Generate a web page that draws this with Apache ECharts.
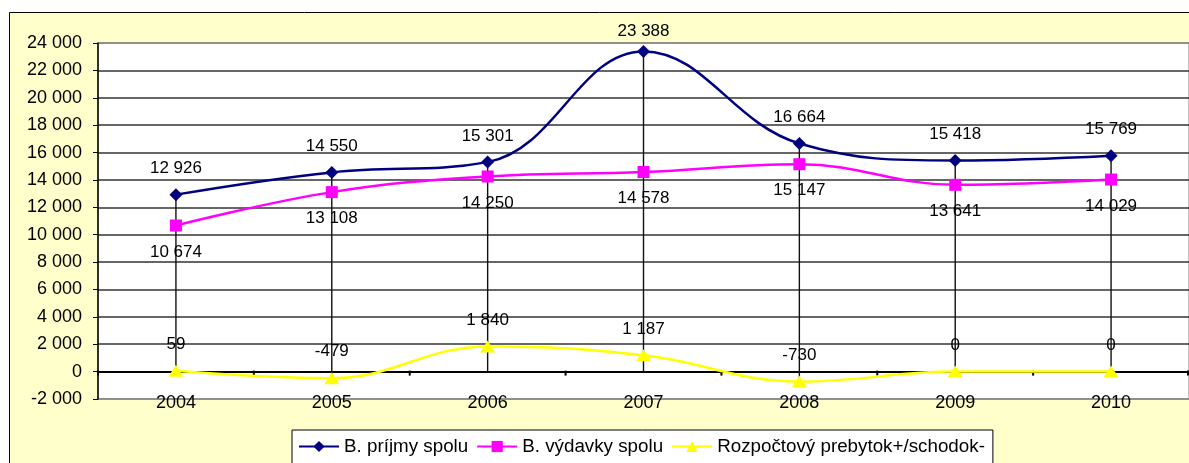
<!DOCTYPE html>
<html>
<head>
<meta charset="utf-8">
<script src="https://cdn.jsdelivr.net/npm/echarts@6/dist/echarts.min.js"></script>
<style>
html,body{margin:0;padding:0;background:#fff;}
#c{width:1189px;height:463px;}
</style>
</head>
<body>
<div id="c"></div>
<script>
const years = ['2004','2005','2006','2007','2008','2009','2010'];
const prijmy = [12926, 14550, 15301, 23388, 16664, 15418, 15769];
const vydavky = [10674, 13108, 14250, 14578, 15147, 13641, 14029];
const saldo = [59, -479, 1840, 1187, -730, 0, 0];
const seriesNames = ['B. príjmy spolu', 'B. výdavky spolu', 'Rozpočtový prebytok+/schodok-'];
const yMin = -2000, yMax = 24000, yStep = 2000;

const FONT = "'Liberation Sans', Arial, sans-serif";
function fmt(v){ return String(v).replace(/\B(?=(\d{3})+(?!\d))/g, ' '); }

const dropData = years.map((y, i) => {
  const vals = [prijmy[i], vydavky[i], saldo[i], 0];
  return [i, Math.max(...vals), Math.min(...vals)];
});

const nTicks = Math.round((yMax - yMin) / yStep) + 1;
const gridColors = [];
for (let k = 0; k < nTicks; k++) gridColors.push((k === 0 || k === nTicks - 1) ? '#808080' : '#333333');

// labels that would leave the chart area are pulled closer to the point (as Excel does)
const pMax = Math.max(...prijmy);
const prijmyData = prijmy.map(v => v === pMax ? {value: v, label: {distance: 5}} : v);

const chart = echarts.init(document.getElementById('c'), null, {renderer: 'canvas'});
chart.setOption({
  animation: false,
  backgroundColor: '#ffffff',
  textStyle: {fontFamily: FONT},
  graphic: [{
    type: 'rect', z: -10, silent: true,
    shape: {x: 9.5, y: 12.5, width: 1200, height: 480},
    style: {fill: '#FFFFCC', stroke: '#000000', lineWidth: 1}
  }],
  grid: {
    left: 98, top: 43, right: 0, bottom: 64,
    show: true, backgroundColor: '#ffffff', borderColor: '#808080', borderWidth: 1
  },
  legend: {
    left: 292, top: 430,
    data: seriesNames,
    backgroundColor: '#ffffff', borderColor: '#000000', borderWidth: 1,
    padding: [7, 8, 20, 6],
    itemWidth: 40, itemHeight: 14, itemGap: 8,
    textStyle: {fontFamily: FONT, fontSize: 18.8, color: '#000'}
  },
  xAxis: {
    type: 'category', data: years, boundaryGap: true,
    axisLine: {onZero: true, lineStyle: {color: '#000', width: 2}},
    axisTick: {show: false},
    axisLabel: {fontFamily: FONT, fontSize: 18, color: '#000', margin: -5},
    splitLine: {show: false}
  },
  yAxis: {
    type: 'value', min: yMin, max: yMax, interval: yStep,
    axisLine: {show: true, onZero: false, lineStyle: {color: '#000', width: 1.5}},
    axisTick: {show: true, length: 5, lineStyle: {color: '#000'}},
    axisLabel: {fontFamily: FONT, fontSize: 18, color: '#000', margin: 16, formatter: v => fmt(v)},
    splitLine: {show: true, lineStyle: {color: gridColors, width: 1.5}}
  },
  series: [
    {
      type: 'custom', name: 'drop', z: 1, silent: true,
      data: dropData,
      encode: {x: 0, y: [1, 2]},
      renderItem: function(params, api){
        const idx = api.value(0);
        const p1 = api.coord([idx, api.value(1)]);
        const p2 = api.coord([idx, api.value(2)]);
        const p0 = api.coord([idx, 0]);
        const bw = api.size([1, 0])[0];
        const children = [
          {type: 'line', shape: {x1: p1[0], y1: p1[1], x2: p2[0], y2: p2[1]},
           style: {stroke: '#111111', lineWidth: 1.4}},
          {type: 'line', shape: {x1: p0[0] - bw / 2, y1: p0[1] - 1, x2: p0[0] - bw / 2, y2: p0[1] + 4},
           style: {stroke: '#000000', lineWidth: 2}}
        ];
        if (params.dataIndex === years.length - 1) {
          children.push({type: 'line', shape: {x1: p0[0] + bw / 2 - 1, y1: p0[1] - 1, x2: p0[0] + bw / 2 - 1, y2: p0[1] + 4},
                         style: {stroke: '#000000', lineWidth: 2}});
        }
        return {type: 'group', children: children};
      }
    },
    {
      name: seriesNames[0], type: 'line', data: prijmyData, smooth: 0.4, z: 5,
      symbol: 'diamond', symbolSize: [13, 13],
      lineStyle: {color: '#000080', width: 2.5},
      itemStyle: {color: '#000080'},
      label: {show: true, position: 'top', distance: 11, fontFamily: FONT, fontSize: 17, color: '#000', formatter: p => fmt(p.value)}
    },
    {
      name: seriesNames[1], type: 'line', data: vydavky, smooth: 0.4, z: 4,
      symbol: 'rect', symbolSize: [12, 12],
      lineStyle: {color: '#FF00FF', width: 2.5},
      itemStyle: {color: '#FF00FF'},
      label: {show: true, position: 'bottom', distance: 12, fontFamily: FONT, fontSize: 17, color: '#000', formatter: p => fmt(p.value)}
    },
    {
      name: seriesNames[2], type: 'line', data: saldo, smooth: 0.4, z: 3,
      symbol: 'triangle', symbolSize: [15, 12],
      lineStyle: {color: '#FFFF00', width: 2.5},
      itemStyle: {color: '#FFFF00'},
      label: {show: true, position: 'top', distance: 12, fontFamily: FONT, fontSize: 17, color: '#000', formatter: p => fmt(p.value)}
    }
  ]
});
</script>
</body>
</html>
